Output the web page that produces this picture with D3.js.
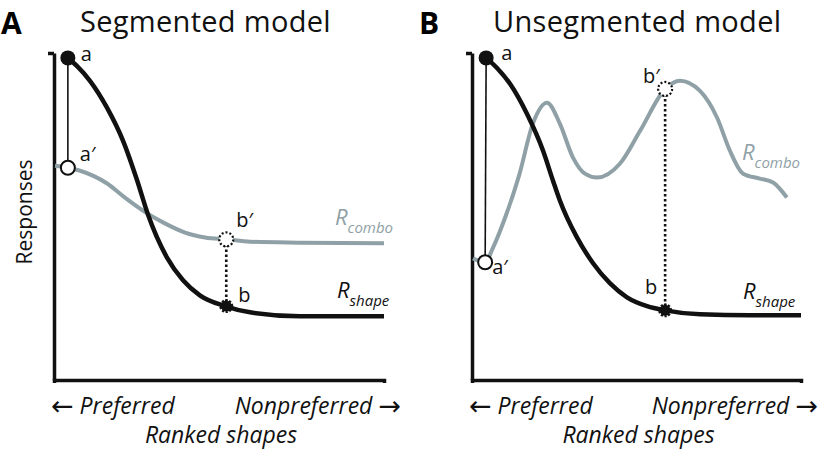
<!DOCTYPE html>
<html>
<head>
<meta charset="utf-8">
<script src="https://cdn.jsdelivr.net/npm/d3@7"></script>
<style>
  body { margin: 0; background: #fff; }
  text { font-family: "Open Sans", sans-serif; }
</style>
</head>
<body>
<div id="fig"></div>
<script>
// ranked shapes (0 = most preferred .. 100 = least), responses 0..100
var shapeA_x = [4.2, 7.0, 10.9, 16.1, 20.9, 25.2, 28.5, 34.2, 39.1, 44.2, 51.8, 59.4, 74.5, 100];
var shapeA_y = [98.5, 96.0, 91.5, 83.2, 73.2, 61.0, 50.5, 37.5, 30.5, 25.9, 22.6, 20.7, 19.5, 19.5];
var comboA_x = [0.3, 4.2, 7.9, 16.1, 21.5, 27.9, 33.6, 39.7, 45.8, 52.4, 59.4, 74.5, 100];
var comboA_y = [65.5, 64.9, 64.0, 60.1, 55.8, 51.2, 47.9, 45.1, 43.6, 43.0, 42.3, 42.0, 41.8];

var shapeB_x = [4.3, 7.6, 11.6, 16.7, 21.6, 24.6, 26.7, 31.9, 36.8, 41.9, 47.1, 53.2, 58.7, 69.3, 84.5, 100];
var shapeB_y = [98.5, 95.4, 90.5, 81.4, 70.1, 61.0, 54.9, 43.6, 35.7, 29.6, 25.3, 22.6, 21.3, 20.1, 19.8, 19.8];
var comboB_x = [0.3, 4.0, 6.4, 10.3, 14.3, 18.5, 22.8, 26.7, 30.7, 34.3, 38.0, 45.0, 51.1, 58.7, 63.2, 69.3, 74.5, 78.4, 82.4, 87.5, 91.5, 95.7];
var comboB_y = [37.2, 36.0, 40.5, 50.3, 62.5, 78.4, 84.8, 78.4, 68.0, 63.1, 61.9, 66.2, 76.2, 89.0, 91.5, 88.4, 80.2, 70.1, 63.1, 61.6, 60.4, 55.8];

// key points: a, a', b', b
var ptsA = { a: [4.2, 98.5], a2: [4.2, 64.9], b2: [52.2, 43.0], b: [52.2, 22.6] };
var ptsB = { a: [4.3, 98.5], a2: [4.0, 36.0], b2: [58.7, 89.0], b: [58.7, 21.3] };

var titles = ["Segmented model", "Unsegmented model"];
var letters = ["A", "B"];

var W = 822, H = 453;
var gray = "#8fa1a6", ink = "#111";

var svg = d3.select("#fig").append("svg").attr("width", W).attr("height", H);

function zip(xs, ys) { return xs.map(function (v, i) { return [v, ys[i]]; }); }

function panel(opt) {
  var x = d3.scaleLinear().domain([0, 100]).range([opt.x0, opt.x1]);
  var y = d3.scaleLinear().domain([0, 100]).range([380, 53]);
  var g = svg.append("g");

  // letter + title
  g.append("text").attr("x", opt.x0 - 53).attr("y", 34)
    .attr("font-family", "Liberation Sans, Arial, sans-serif")
    .attr("font-size", 30).attr("font-weight", "bold").text(opt.letter);
  g.append("text").attr("x", opt.titleX).attr("y", 32)
    .attr("font-size", 29).attr("letter-spacing", 0.3).attr("fill", ink).text(opt.title);

  // axes
  var ya = g.append("g").attr("transform", "translate(" + opt.x0 + ",0)")
    .call(d3.axisLeft(y).tickValues([100]).tickSize(6).tickSizeOuter(0).tickFormat(""));
  var xa = g.append("g").attr("transform", "translate(0,380)")
    .call(d3.axisBottom(x).tickValues([]).tickSizeOuter(3));
  [ya, xa].forEach(function (a) {
    a.selectAll("path, line").attr("stroke", ink).attr("stroke-width", 3.5);
  });

  var line = d3.line().x(function (d) { return x(d[0]); }).y(function (d) { return y(d[1]); })
    .curve(d3.curveMonotoneX);

  // thin connector a -> a'
  g.append("line").attr("x1", x(opt.pts.a[0])).attr("x2", x(opt.pts.a2[0]))
    .attr("y1", y(opt.pts.a[1])).attr("y2", y(opt.pts.a2[1]))
    .attr("stroke", ink).attr("stroke-width", 1.6);
  // dotted connector b' -> b
  g.append("line").attr("x1", x(opt.pts.b2[0])).attr("x2", x(opt.pts.b[0]))
    .attr("y1", y(opt.pts.b2[1])).attr("y2", y(opt.pts.b[1]))
    .attr("stroke", ink).attr("stroke-width", 2.6).attr("stroke-dasharray", "2.5,2.5");

  g.append("path").datum(zip(opt.comboX, opt.comboY)).attr("d", line)
    .attr("fill", "none").attr("stroke", gray).attr("stroke-width", 4);
  g.append("path").datum(zip(opt.shapeX, opt.shapeY)).attr("d", line)
    .attr("fill", "none").attr("stroke", ink).attr("stroke-width", 4.5);

  // markers
  g.append("circle").attr("cx", x(opt.pts.a[0])).attr("cy", y(opt.pts.a[1])).attr("r", 7.5).attr("fill", ink);
  g.append("circle").attr("cx", x(opt.pts.a2[0])).attr("cy", y(opt.pts.a2[1])).attr("r", 7)
    .attr("fill", "#fff").attr("stroke", ink).attr("stroke-width", 2);
  g.append("circle").attr("cx", x(opt.pts.b2[0])).attr("cy", y(opt.pts.b2[1])).attr("r", 7)
    .attr("fill", "#fff").attr("stroke", ink).attr("stroke-width", 2.2).attr("stroke-dasharray", "2,2");
  g.append("circle").attr("cx", x(opt.pts.b[0])).attr("cy", y(opt.pts.b[1])).attr("r", 5.5)
    .attr("fill", ink).attr("stroke", ink).attr("stroke-width", 3).attr("stroke-dasharray", "2,1.5");

  // point labels
  function lab(p, dx, dy, t) {
    g.append("text").attr("x", x(p[0]) + dx).attr("y", y(p[1]) + dy)
      .attr("font-size", 20).attr("fill", ink).text(t);
  }
  opt.labels.forEach(function (l) { lab(opt.pts[l[0]], l[1], l[2], l[3]); });

  // curve names
  function rname(px, py, sub, col) {
    var t = g.append("text").attr("x", px).attr("y", py).attr("fill", col)
      .attr("font-style", "italic").attr("font-size", 22);
    t.append("tspan").text("R");
    t.append("tspan").attr("font-size", 15).attr("dy", 8).text(sub);
  }
  rname(opt.comboLab[0], opt.comboLab[1], "combo", gray);
  rname(opt.shapeLab[0], opt.shapeLab[1], "shape", ink);

  // axis labels
  var arrowFont = "DejaVu Sans, sans-serif";
  var t1 = g.append("text").attr("x", opt.x0 - 3).attr("y", 414).attr("font-size", 23)
    .attr("font-style", "italic").attr("fill", ink);
  t1.append("tspan").attr("font-family", arrowFont).attr("font-style", "normal")
    .attr("font-size", 27).attr("dy", 1).text("\u2190");
  t1.append("tspan").attr("dy", -1).text(" Preferred");
  var t2 = g.append("text").attr("x", opt.x1 + 17).attr("y", 414).attr("font-size", 23)
    .attr("font-style", "italic").attr("fill", ink).attr("text-anchor", "end");
  t2.append("tspan").text("Nonpreferred ");
  t2.append("tspan").attr("font-family", arrowFont).attr("font-style", "normal")
    .attr("font-size", 27).attr("dy", 1).text("\u2192");
  g.append("text").attr("x", (opt.x0 + opt.x1) / 2 + 2).attr("y", 443).attr("font-size", 23)
    .attr("font-style", "italic").attr("fill", ink).attr("text-anchor", "middle").text("Ranked shapes");
}

panel({
  x0: 54, x1: 384, letter: letters[0], title: titles[0], titleX: 80,
  shapeX: shapeA_x, shapeY: shapeA_y, comboX: comboA_x, comboY: comboA_y, pts: ptsA,
  labels: [["a", 13, 3, "a"], ["a2", 12, -7, "a\u2032"], ["b2", 10, -12, "b\u2032"], ["b", 12, -4, "b"]],
  comboLab: [335, 225], shapeLab: [337, 298]
});
panel({
  x0: 472, x1: 801, letter: letters[1], title: titles[1], titleX: 493,
  shapeX: shapeB_x, shapeY: shapeB_y, comboX: comboB_x, comboY: comboB_y, pts: ptsB,
  labels: [["a", 15, 2, "a"], ["a2", 7, 12, "a\u2032"], ["b2", -22, -6, "b\u2032"], ["b", -20, -16, "b"]],
  comboLab: [742, 160], shapeLab: [743, 299]
});

// shared y label
svg.append("text").attr("transform", "translate(32,212) rotate(-90)")
  .attr("text-anchor", "middle").attr("font-size", 21).attr("fill", ink).text("Responses");
</script>
</body>
</html>
